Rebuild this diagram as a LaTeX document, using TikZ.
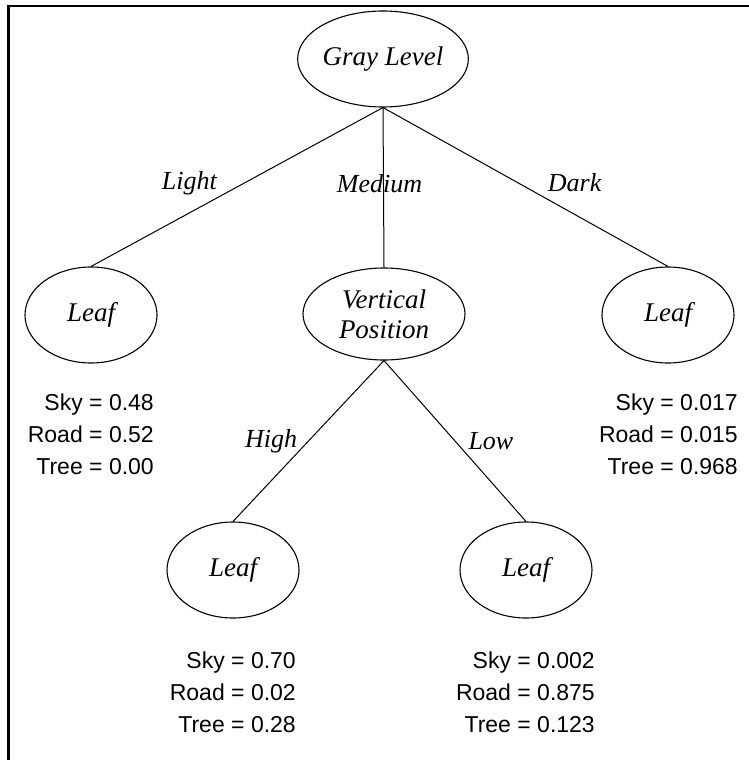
\documentclass[tikz,border=0pt]{standalone}
\usepackage{fontspec}
\setmainfont{Liberation Serif}
\newfontfamily\valfont{Liberation Sans}
\usepackage{tikz}
\usetikzlibrary{shapes.geometric}
\tikzset{split/.style={draw,ellipse,line width=1.1pt,inner sep=0pt,
        minimum width=162pt,minimum height=96pt,align=center,
        font=\itshape\fontsize{27}{30}\selectfont},
    leaf/.style={split,minimum width=132pt},
    branch/.style={inner sep=0pt,font=\itshape\fontsize{26}{30}\selectfont},
    probs/.style={align=right,anchor=east,inner sep=0pt,
        font=\valfont\fontsize{23}{32}\selectfont},
    link/.style={draw,line width=1pt}}

\begin{document}
\begin{tikzpicture}[x=1pt,y=-1pt]
    \useasboundingbox (0,0) rectangle (749,760);
    \draw[line width=2.5pt] (749,6) -- (8.5,6) -- (8.5,760);
    % root and first level
    \node[split] (gray) at (383,59) {Gray Level};
    \node[leaf] (leafl) at (91,315) {Leaf};
    \node[split,minimum height=92pt] (vpos) at (384,314) {Vertical\\Position};
    \node[leaf] (leafr) at (668,315) {Leaf};
    % second level
    \node[leaf] (leafh) at (233,570) {Leaf};
    \node[leaf] (leafo) at (526,570) {Leaf};
    \draw[link] (gray.south) -- node[branch,pos=0.475,anchor=east,xshift=-27pt] (light) {Light} (leafl.north);
    \draw[link] (gray.south) -- node[branch,pos=0.475,xshift=-4pt] (medium) {Medium} (vpos.north);
    \draw[link] (gray.south) -- node[branch,pos=0.475,anchor=west,xshift=29pt] (dark) {Dark} (leafr.north);
    \draw[link] (vpos.south) -- node[branch,pos=0.5,anchor=east,xshift=-11pt] (high) {High} (leafh.north);
    \draw[link] (vpos.south) -- node[branch,pos=0.5,anchor=west,xshift=13pt] (low) {Low} (leafo.north);
    % class probabilities
    \node[probs] (pl) at (154,434) {Sky = 0.48\\Road = 0.52\\Tree = 0.00};
    \node[probs] (pr) at (738,434) {Sky = 0.017\\Road = 0.015\\Tree = 0.968};
    \node[probs] (ph) at (296,692) {Sky = 0.70\\Road = 0.02\\Tree = 0.28};
    \node[probs] (po) at (595,692) {Sky = 0.002\\Road = 0.875\\Tree = 0.123};
\end{tikzpicture}
\end{document}
